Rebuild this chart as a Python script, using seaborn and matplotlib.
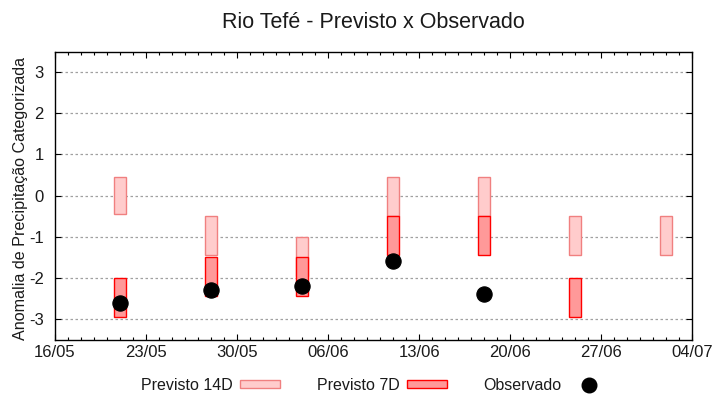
import pandas as pd
import seaborn as sns
import matplotlib.pyplot as plt
import matplotlib.dates as mdates
from matplotlib.patches import Patch
from matplotlib.lines import Line2D

# datas das previsões (semanais)
datas = ['2025-05-21', '2025-05-28', '2025-06-04', '2025-06-11',
         '2025-06-18', '2025-06-25', '2025-07-02']

# faixas do previsto 14 dias (limite inferior / superior)
p14_inf = [-0.45, -1.45, -1.95, -0.5, -0.5, -1.45, -1.45]
p14_sup = [0.45, -0.5, -1.0, 0.45, 0.45, -0.5, -0.5]

# faixas do previsto 7 dias
p7_datas = ['2025-05-21', '2025-05-28', '2025-06-04', '2025-06-11',
            '2025-06-18', '2025-06-25']
p7_inf = [-2.95, -2.45, -2.45, -1.45, -1.45, -2.95]
p7_sup = [-2.0, -1.5, -1.5, -0.5, -0.5, -2.0]

# observado
obs_datas = ['2025-05-21', '2025-05-28', '2025-06-04', '2025-06-11', '2025-06-18']
obs_valores = [-2.6, -2.3, -2.2, -1.6, -2.4]

marcas_x = ['2025-05-16', '2025-05-23', '2025-05-30', '2025-06-06',
            '2025-06-13', '2025-06-20', '2025-06-27', '2025-07-04']

sns.set_style('ticks')
plt.rcParams['font.family'] = ['Liberation Sans', 'DejaVu Sans']
plt.rcParams['axes.unicode_minus'] = False

cor14_fill, cor14_borda = '#ffcccc', '#f08080'
cor7_fill, cor7_borda = '#ff9999', '#ff0000'
cor_texto = '#1a1a1a'

df14 = pd.DataFrame({'data': pd.to_datetime(datas), 'inf': p14_inf, 'sup': p14_sup})
df7 = pd.DataFrame({'data': pd.to_datetime(p7_datas), 'inf': p7_inf, 'sup': p7_sup})
dfo = pd.DataFrame({'data': pd.to_datetime(obs_datas), 'valor': obs_valores})

fig = plt.figure(figsize=(7.2, 4.0), dpi=100)
ax = fig.add_axes([0.0764, 0.151, 0.885, 0.72])

ax.bar(df14['data'], df14['sup'] - df14['inf'], bottom=df14['inf'], width=0.92,
       color=cor14_fill, edgecolor=cor14_borda, linewidth=1, zorder=2)
ax.bar(df7['data'], df7['sup'] - df7['inf'], bottom=df7['inf'], width=0.92,
       color=cor7_fill, edgecolor=cor7_borda, linewidth=1, zorder=3)
sns.scatterplot(data=dfo, x='data', y='valor', ax=ax, color='black',
                edgecolor='black', s=120, zorder=4, legend=False)

ax.set_xlim(pd.Timestamp(marcas_x[0]), pd.Timestamp(marcas_x[-1]))
ax.set_ylim(-3.5, 3.5)
ax.set_xticks(pd.to_datetime(marcas_x))
ax.xaxis.set_major_formatter(mdates.DateFormatter('%d/%m'))
ax.xaxis.set_minor_locator(mdates.DayLocator())
ax.set_yticks(range(-3, 4))

ax.tick_params(axis='both', which='both', direction='in', top=True, right=True,
               labelsize=12, labelcolor=cor_texto, color='black')
ax.tick_params(which='major', length=4, width=0.8)
ax.tick_params(which='minor', length=2.2, width=0.8)
ax.tick_params(axis='y', pad=8)
ax.tick_params(axis='x', pad=4)
for s in ax.spines.values():
    s.set_linewidth(1)
    s.set_color('black')

ax.grid(axis='y', linestyle=(0, (2, 2)), color='#a0a0a0', linewidth=0.9, zorder=0)
ax.grid(axis='x', visible=False)

ax.set_xlabel('')
ax.set_ylabel('Anomalia de Precipitação Categorizada', fontsize=11.6,
              color=cor_texto)
ax.yaxis.set_label_coords(-0.043, 0.49)
ax.set_title('Rio Tefé - Previsto x Observado', fontsize=15.5,
             color=cor_texto, pad=17)

handles = [
    Patch(facecolor=cor14_fill, edgecolor=cor14_borda, linewidth=1),
    Patch(facecolor=cor7_fill, edgecolor=cor7_borda, linewidth=1),
    Line2D([], [], linestyle='none', marker='o', color='black', markersize=10.5),
]
leg = fig.legend(handles, ['Previsto 14D', 'Previsto 7D', 'Observado'],
                 loc='center', bbox_to_anchor=(0.521, 0.036), ncol=3, frameon=False,
                 markerfirst=False, fontsize=11.5, handlelength=2.5, handleheight=0.4,
                 handletextpad=0.45, columnspacing=2.3)
for t in leg.get_texts():
    t.set_color(cor_texto)

fig.savefig('out.png', dpi=100)
